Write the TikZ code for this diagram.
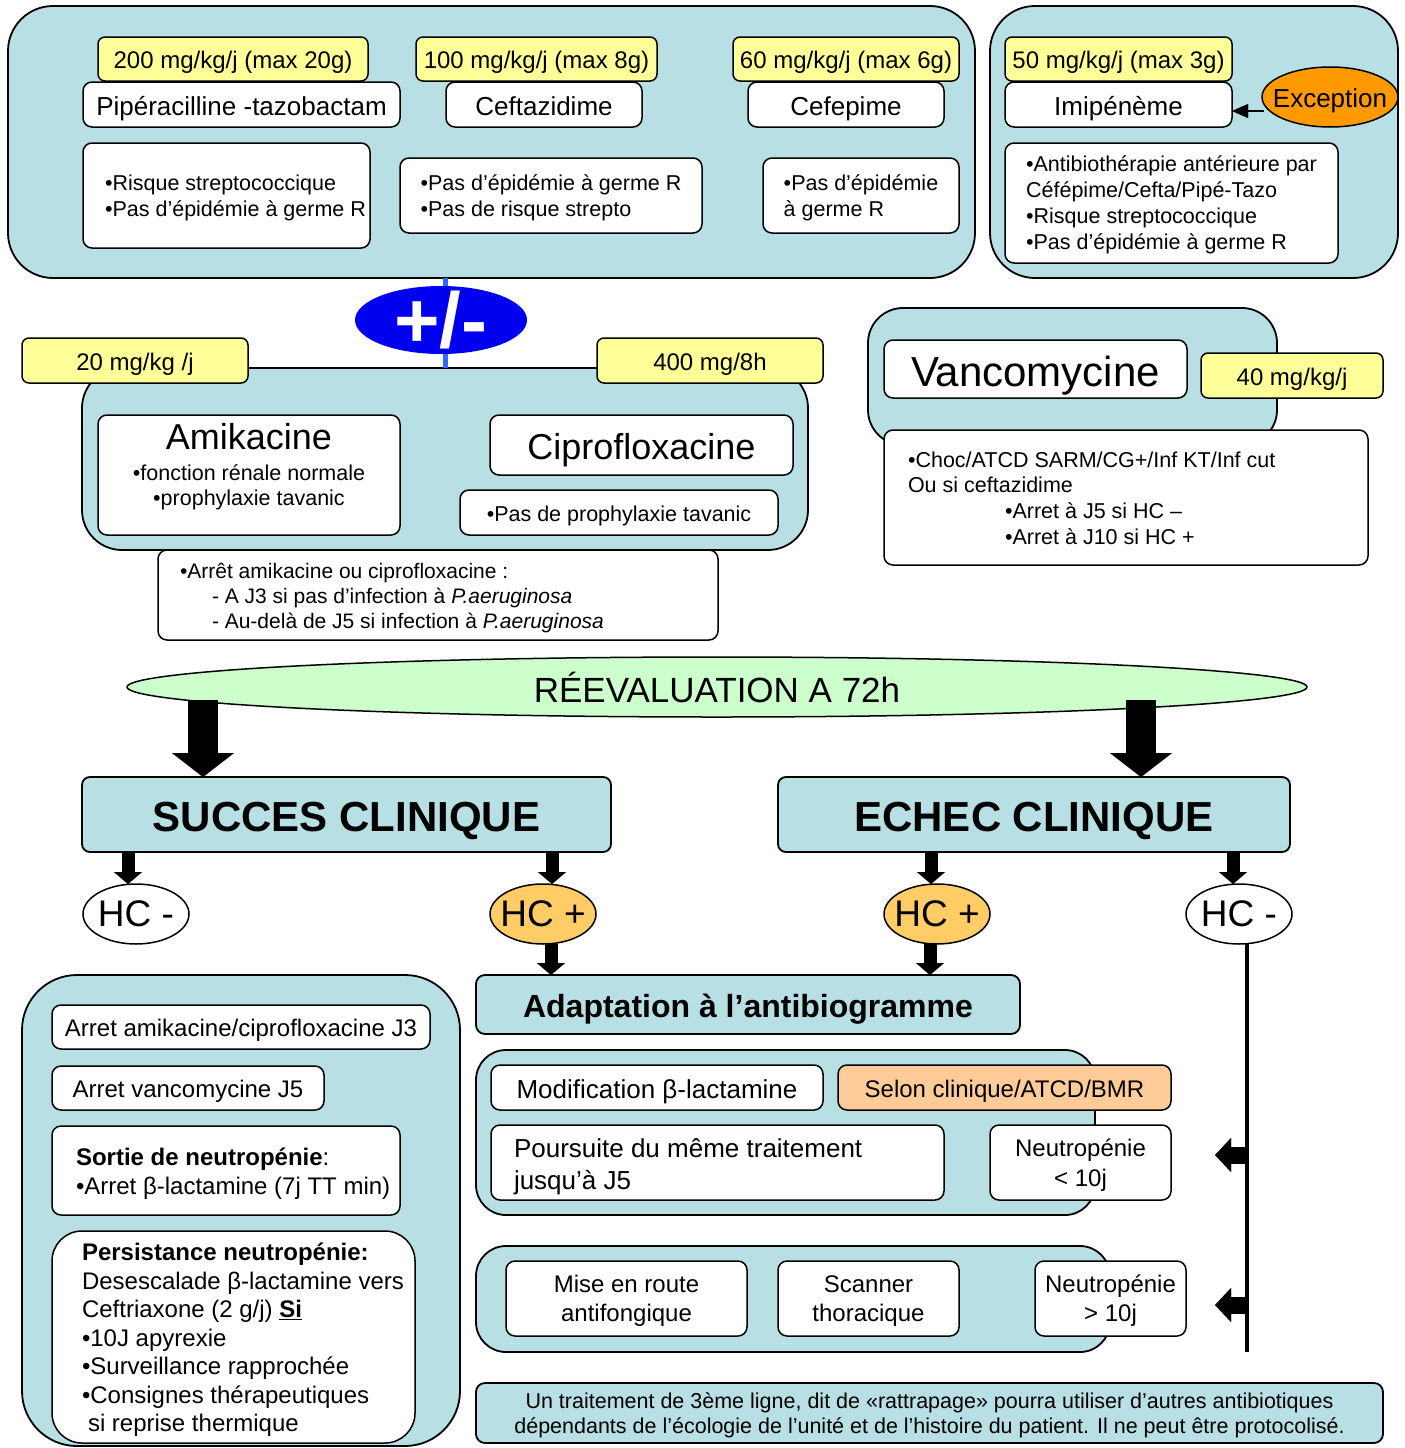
\documentclass[tikz,border=0pt]{standalone}
\usepackage{fontspec}
\setmainfont{Liberation Sans}
\usetikzlibrary{shapes.geometric,arrows.meta}
\definecolor{pblue}{RGB}{184,223,227}
\definecolor{pyel}{RGB}{255,255,153}
\definecolor{porange}{RGB}{255,153,0}
\definecolor{hcplus}{RGB}{255,204,102}
\definecolor{selon}{RGB}{255,204,153}
\definecolor{pgreen}{RGB}{204,255,204}
\definecolor{pmblue}{RGB}{0,0,240}
\definecolor{plblue}{RGB}{51,102,255}
\newcommand\fz[2]{\fontsize{#1}{#2}\selectfont}
\newcommand\bx[7]{\node[#1, minimum width={#4-#2}, minimum height={#5-#3}] (#6) at ({(#2+#4)/2},{(#3+#5)/2}) {#7};}
\begin{document}
\begin{tikzpicture}[x=1pt,y=-1pt,
  every node/.style={inner sep=0pt, outer sep=0pt},
  panel/.style={draw, line width=1.8pt, fill=pblue, rounded corners=#1},
  panel/.default=40pt,
  wbox/.style={draw, line width=1.5pt, fill=white, rounded corners=9pt, align=center},
  ybox/.style={draw, line width=1.5pt, fill=pyel, rounded corners=7pt, font=\fz{24}{28}, text height=19.7pt, text depth=0pt},
  one/.style={text height=#1, text depth=0pt},
  multi/.style={text depth=-2pt},
  tx/.style={anchor=west, align=left},
  hc/.style={ellipse, draw, line width=1.5pt, minimum width=106, minimum height=60},
  hct/.style={font=\fz{37}{40}},
  bigarrow/.style={line width=30pt, -{Triangle[width=62pt,length=24pt,line width=0.01pt]}},
  smallarrow/.style={line width=13pt, -{Triangle[width=28pt,length=12pt,line width=0.01pt]}},
  leftarrow/.style={line width=17pt, -{Triangle[width=34pt,length=16pt,line width=0.01pt]}},
]
\useasboundingbox (0,0) rectangle (1405,1448);
\fill[white] (0,0) rectangle (1405,1448);

% ---------- top panels ----------
\bx{panel=45pt}{8}{6}{975}{278}{pTop}{}
\bx{panel=45pt}{990}{6}{1398}{278}{pImi}{}

\bx{ybox}{98}{37}{368}{81}{dPip}{200 mg/kg/j (max 20g)}
\bx{wbox,font=\fz{26}{30},one=21.3pt}{83}{82}{400}{127}{pip}{Pipéracilline -tazobactam}
\bx{ybox}{416}{37}{657}{81}{dCaz}{100 mg/kg/j (max 8g)}
\bx{wbox,font=\fz{26}{30},one=21.3pt}{446}{82}{642}{127}{caz}{Ceftazidime}
\bx{ybox}{733}{37}{959}{81}{dFep}{60 mg/kg/j (max 6g)}
\bx{wbox,font=\fz{26}{30},one=21.3pt}{748}{82}{944}{127}{fep}{Cefepime}

\bx{wbox,font=\fz{21.5}{26},align=left,multi}{83}{143}{370}{248}{cPip}{\hspace*{18pt}•Risque streptococcique\\\hspace*{18pt}•Pas d’épidémie à germe R}
\bx{wbox,font=\fz{21.5}{26},align=left,multi}{400}{158}{702}{233}{cCaz}{•Pas d’épidémie à germe R\\•Pas de risque strepto}
\bx{wbox,font=\fz{21.5}{26},align=left,multi}{763}{158}{959}{233}{cFep}{•Pas d’épidémie\\à germe R}

\bx{ybox}{1005}{37}{1232}{81}{dImi}{50 mg/kg/j (max 3g)}
\bx{wbox,font=\fz{26}{30},one=21.3pt}{1005}{82}{1232}{127}{imi}{Imipénème}
\node[ellipse, draw, line width=1.5pt, fill=porange, minimum width=136, minimum height=60] (exc) at (1330,97) {};
\node[font=\fz{26}{30}, one=21.3pt] (excT) at (exc.center) {Exception};
\coordinate (exA) at (1264,111);
\draw[line width=1.5pt, -{Triangle[width=14pt,length=16pt,line width=0.01pt]}] (exA) -- (exA -| imi.east);
\bx{wbox,font=\fz{21.5}{26},align=left,multi}{1005}{143}{1338}{263}{cImi}{•Antibiothérapie antérieure par\\Céfépime/Cefta/Pipé-Tazo\\•Risque streptococcique\\•Pas d’épidémie à germe R}

% ---------- amikacine / ciprofloxacine ----------
\bx{panel=40pt}{82}{368}{808}{550}{pAmi}{}
\coordinate (pmTop) at (445,278);
\coordinate (pmBot) at (445,368);
\draw[plblue, line width=5pt] (pmTop) -- (pmBot);
\node[ellipse, fill=pmblue, minimum width=172, minimum height=68] (pm) at (441,320) {};
\node[text=white, font=\bfseries\fz{78}{80}] (pmT) at (pm.center) {+/-};

\bx{ybox}{22}{338}{248}{383}{dAmi}{20 mg/kg /j}
\bx{ybox}{597}{338}{823}{383}{dCip}{400 mg/8h}
\bx{wbox}{98}{415}{400}{535}{ami}{}
\node[font=\fz{36}{40}] (amiT) at (249,437) {Amikacine};
\node[font=\fz{21.5}{25}, align=center] (amiC) at (249,487) {•fonction rénale normale\\•prophylaxie tavanic};
\bx{wbox,font=\fz{36}{40},one=29.5pt}{490}{415}{793}{475}{cip}{Ciprofloxacine}
\bx{wbox,font=\fz{21.5}{26},one=17.6pt}{460}{490}{778}{535}{cCip}{•Pas de prophylaxie tavanic}
\bx{wbox}{158}{550}{718}{640}{arr}{}
\node[tx, font=\fz{21}{25}] (arrT) at (180,598) {•Arrêt amikacine ou ciprofloxacine :\\\hspace*{32pt}- A J3 si pas d’infection à \textit{P.aeruginosa}\\\hspace*{32pt}- Au-delà de J5 si infection à \textit{P.aeruginosa}};

% ---------- vancomycine ----------
\bx{panel=35pt}{868}{308}{1277}{445}{pVan}{}
\bx{wbox,font=\fz{42}{46},one=34.4pt}{884}{340}{1187}{398}{van}{Vancomycine}
\bx{ybox}{1201}{353}{1383}{398}{dVan}{40 mg/kg/j}
\bx{wbox}{884}{430}{1368}{565}{cVan}{}
\node[tx, font=\fz{21.5}{25.7}] (vanT) at (908,498) {•Choc/ATCD SARM/CG+/Inf KT/Inf cut\\Ou si ceftazidime\\\hspace*{97pt}•Arret à J5 si HC –\\\hspace*{97pt}•Arret à J10 si HC +};

% ---------- reevaluation ----------
\node[ellipse, draw, line width=1.5pt, fill=pgreen, minimum width=1180, minimum height=60] (reval) at (717,687) {};
\node[font=\fz{35}{40}] (revalT) at (reval.center) {RÉEVALUATION A 72h};
\bx{panel=8pt,font=\bfseries\fz{42}{46},one=34.4pt}{82}{777}{611}{852}{succ}{SUCCES CLINIQUE}
\bx{panel=8pt,font=\bfseries\fz{42}{46},one=34.4pt}{778}{777}{1290}{852}{echec}{ECHEC CLINIQUE}
\coordinate (aL) at (203,700);
\coordinate (aR) at (1141,700);
\draw[bigarrow] (aL) -- (aL |- succ.north);
\draw[bigarrow] (aR) -- (aR |- echec.north);

% ---------- HC ----------
\node[hc, fill=white] (hcA) at (136,914) {};
\node[hct] (hcAT) at (hcA.center) {HC -};
\node[hc, fill=hcplus] (hcB) at (543,914) {};
\node[hct] (hcBT) at (hcB.center) {HC +};
\node[hc, fill=hcplus] (hcC) at (937,914) {};
\node[hct] (hcCT) at (hcC.center) {HC +};
\node[hc, fill=white] (hcD) at (1239,914) {};
\node[hct] (hcDT) at (hcD.center) {HC -};
\coordinate (s1) at (128,852);
\coordinate (s2) at (552,852);
\coordinate (s3) at (931,852);
\coordinate (s4) at (1233,852);
\draw[smallarrow] (s1) -- (s1 |- hcA.north);
\draw[smallarrow] (s2) -- (s2 |- hcB.north);
\draw[smallarrow] (s3) -- (s3 |- hcC.north);
\draw[smallarrow] (s4) -- (s4 |- hcD.north);

% ---------- adaptation ----------
\bx{panel=9pt,font=\bfseries\fz{32}{36},one=26.2pt}{476}{975}{1020}{1034}{adapt}{Adaptation à l’antibiogramme}
\coordinate (d1) at (551,944);
\coordinate (d2) at (930,944);
\draw[smallarrow] (d1) -- (d1 |- adapt.north);
\draw[smallarrow] (d2) -- (d2 |- adapt.north);

\bx{panel=30pt}{476}{1050}{1095}{1215}{pMod}{}
\bx{wbox,font=\fz{26}{30},one=21.3pt}{491}{1065}{823}{1110}{mod}{Modification β-lactamine}
\bx{wbox,fill=selon,font=\fz{24}{28},one=19.7pt}{838}{1065}{1171}{1110}{sel}{Selon clinique/ATCD/BMR}
\bx{wbox}{491}{1125}{944}{1200}{pou}{}
\node[tx, font=\fz{26}{32}] (pouT) at (514,1167) {Poursuite du même traitement\\jusqu’à J5};
\bx{wbox,font=\fz{24}{30},multi}{990}{1125}{1171}{1200}{nA}{Neutropénie\\< 10j}

\bx{panel=30pt}{476}{1246}{1110}{1352}{pAnt}{}
\bx{wbox,font=\fz{24}{29},multi}{506}{1261}{747}{1336}{mise}{Mise en route\\antifongique}
\bx{wbox,font=\fz{24}{29},multi}{778}{1261}{959}{1336}{scan}{Scanner\\thoracique}
\bx{wbox,font=\fz{24}{29},multi}{1035}{1261}{1186}{1336}{nB}{Neutropénie\\> 10j}

\coordinate (vTop) at (1247,943);
\coordinate (vBot) at (1247,1352);
\draw[line width=4pt] (vTop) -- (vBot);
\coordinate (la1) at (1247,1155);
\coordinate (la1e) at (1215,1155);
\coordinate (la2) at (1247,1305);
\coordinate (la2e) at (1215,1305);
\draw[leftarrow] (la1) -- (la1e);
\draw[leftarrow] (la2) -- (la2e);

% ---------- left bottom panel ----------
\bx{panel=55pt}{22}{975}{460}{1446}{pSuc}{}
\bx{wbox,font=\fz{24}{28},one=19.7pt}{52}{1005}{430}{1049}{sA}{Arret amikacine/ciprofloxacine J3}
\bx{wbox,font=\fz{24}{28},one=19.7pt}{52}{1066}{324}{1110}{sB}{Arret vancomycine J5}
\bx{wbox}{52}{1126}{400}{1215}{sC}{}
\node[tx, font=\fz{24}{29}] (sCT) at (76,1174) {\textbf{Sortie de neutropénie}:\\•Arret β-lactamine (7j TT min)};
\bx{wbox,rounded corners=30pt}{52}{1231}{415}{1443}{sD}{}
\node[tx, font=\fz{24}{28.5}] (sDT) at (82,1340) {\textbf{Persistance neutropénie:}\\Desescalade β-lactamine vers\\Ceftriaxone (2 g/j) \textbf{\underline{Si}}\\•10J apyrexie\\•Surveillance rapprochée\\•Consignes thérapeutiques\\\hspace*{6pt}si reprise thermique};

% ---------- note ----------
\bx{panel=9pt,font=\fz{21.5}{25},align=center,multi}{476}{1383}{1383}{1443}{note}{Un traitement de 3ème ligne, dit de «rattrapage» pourra utiliser d’autres antibiotiques\\dépendants de l’écologie de l’unité et de l’histoire du patient. Il ne peut être protocolisé.}
\end{tikzpicture}
\end{document}
